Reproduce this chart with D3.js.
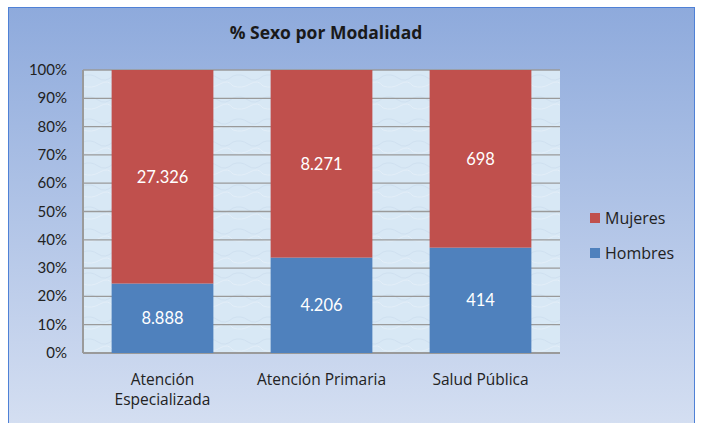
<!DOCTYPE html>
<html>
<head>
<meta charset="utf-8">
<script src="https://cdn.jsdelivr.net/npm/d3@7"></script>
<style>
  body { margin: 0; background: #fff; }
  text { font-family: Lato, "Open Sans", sans-serif; }
  .wide { font-family: "Open Sans", sans-serif; }
</style>
</head>
<body>
<script>
var categories = [["Atención", "Especializada"], ["Atención Primaria"], ["Salud Pública"]];
var hombres = [8888, 4206, 414];
var mujeres = [27326, 8271, 698];
var seriesNames = ["Mujeres", "Hombres"];
var yTicks = [0, 0.1, 0.2, 0.3, 0.4, 0.5, 0.6, 0.7, 0.8, 0.9, 1];

var width = 704, height = 423;
var margin = {left: 83, right: 144, top: 70, bottom: 70};

var svg = d3.select("body").append("svg")
    .attr("width", width)
    .attr("height", height);

var defs = svg.append("defs");
var grad = defs.append("linearGradient")
    .attr("id", "bg").attr("x1", 0).attr("y1", 0).attr("x2", 0).attr("y2", 1);
grad.append("stop").attr("offset", "0%").attr("stop-color", "#8eaadc");
grad.append("stop").attr("offset", "100%").attr("stop-color", "#d6e0f2");

// light marbled plot fill
var pat = defs.append("pattern")
    .attr("id", "marble").attr("patternUnits", "userSpaceOnUse")
    .attr("width", 30).attr("height", 22);
pat.append("rect").attr("width", 30).attr("height", 22).attr("fill", "#d8e8f5");
pat.append("path").attr("d", "M0 6 Q8 3 15 8 T30 6").attr("stroke", "#cfe0f0").attr("fill", "none");
pat.append("path").attr("d", "M0 16 Q9 19 17 14 T30 16").attr("stroke", "#e3eef8").attr("fill", "none");

svg.append("rect")
    .attr("x", 8.5).attr("y", 7.5)
    .attr("width", 686).attr("height", 430)
    .attr("fill", "url(#bg)")
    .attr("stroke", "#4f81d6")
    .attr("stroke-width", 1);

svg.append("text")
    .attr("class", "wide")
    .attr("x", 326).attr("y", 39)
    .attr("text-anchor", "middle")
    .attr("font-size", 17.5).attr("font-weight", "bold")
    .attr("fill", "#1a1a1a")
    .text("% Sexo por Modalidad");

var plotW = 560 - margin.left, plotH = 353 - margin.top;
var g = svg.append("g").attr("transform", "translate(" + margin.left + "," + margin.top + ")");

var x = d3.scaleBand().domain(d3.range(categories.length)).range([0, plotW]).paddingInner(0.36).paddingOuter(0.18);
var y = d3.scaleLinear().domain([0, 1]).range([plotH, 0]);

g.append("rect").attr("width", plotW).attr("height", plotH).attr("fill", "url(#marble)");

g.selectAll(".grid").data(yTicks).enter().append("line")
    .attr("x1", 0).attr("x2", plotW)
    .attr("y1", function(d){ return y(d); }).attr("y2", function(d){ return y(d); })
    .attr("stroke", "#9a9a9a").attr("stroke-width", 1.3);

g.append("line").attr("x1", 0).attr("x2", 0).attr("y1", 0).attr("y2", plotH)
    .attr("stroke", "#9a9a9a").attr("stroke-width", 2);
g.append("line").attr("x1", 0).attr("x2", plotW).attr("y1", plotH).attr("y2", plotH)
    .attr("stroke", "#9a9a9a").attr("stroke-width", 2);

var fmt = function(v){ return d3.format(",")(v).replace(/,/g, "."); };

var data = categories.map(function(c, i){
    var t = hombres[i] + mujeres[i];
    return {i: i, h: hombres[i], m: mujeres[i], hp: hombres[i] / t};
});

g.selectAll(".barH").data(data).enter().append("rect")
    .attr("x", function(d){ return x(d.i); })
    .attr("width", x.bandwidth())
    .attr("y", function(d){ return y(d.hp); })
    .attr("height", function(d){ return y(0) - y(d.hp); })
    .attr("fill", "#4f81bd");

g.selectAll(".barM").data(data).enter().append("rect")
    .attr("x", function(d){ return x(d.i); })
    .attr("width", x.bandwidth())
    .attr("y", y(1))
    .attr("height", function(d){ return y(d.hp) - y(1); })
    .attr("fill", "#c0504d");

g.selectAll(".lblH").data(data).enter().append("text")
    .attr("x", function(d){ return x(d.i) + x.bandwidth() / 2; })
    .attr("y", function(d){ return y(d.hp / 2) + 6; })
    .attr("text-anchor", "middle").attr("font-size", 16.5).attr("fill", "#fff")
    .text(function(d){ return fmt(d.h); });

g.selectAll(".lblM").data(data).enter().append("text")
    .attr("x", function(d){ return x(d.i) + x.bandwidth() / 2; })
    .attr("y", function(d){ return y((d.hp + 1) / 2) + 6; })
    .attr("text-anchor", "middle").attr("font-size", 16.5).attr("fill", "#fff")
    .text(function(d){ return fmt(d.m); });

g.selectAll(".ytick").data(yTicks).enter().append("text")
    .attr("x", -16).attr("y", function(d){ return y(d) + 5; })
    .attr("text-anchor", "end").attr("font-size", 15).attr("fill", "#222")
    .text(function(d){ return Math.round(d * 100) + "%"; });

// one text element per line so wrapped labels don't collide
categories.forEach(function(lines, i){
    lines.forEach(function(l, k){
        g.append("text")
            .attr("class", "wide")
            .attr("x", x(i) + x.bandwidth() / 2)
            .attr("y", plotH + 32 + k * 20)
            .attr("text-anchor", "middle").attr("font-size", 15.5).attr("fill", "#222")
            .text(l);
    });
});

var legColors = {"Mujeres": "#c0504d", "Hombres": "#4f81bd"};
var leg = svg.append("g").attr("transform", "translate(590,213)");
leg.selectAll("rect").data(seriesNames).enter().append("rect")
    .attr("x", 0).attr("y", function(d, i){ return i * 35; })
    .attr("width", 10).attr("height", 10)
    .attr("fill", function(d){ return legColors[d]; });
leg.selectAll("text").data(seriesNames).enter().append("text")
    .attr("class", "wide")
    .attr("x", 15).attr("y", function(d, i){ return i * 35 + 11; })
    .attr("font-size", 16).attr("fill", "#222")
    .text(function(d){ return d; });
</script>
</body>
</html>
